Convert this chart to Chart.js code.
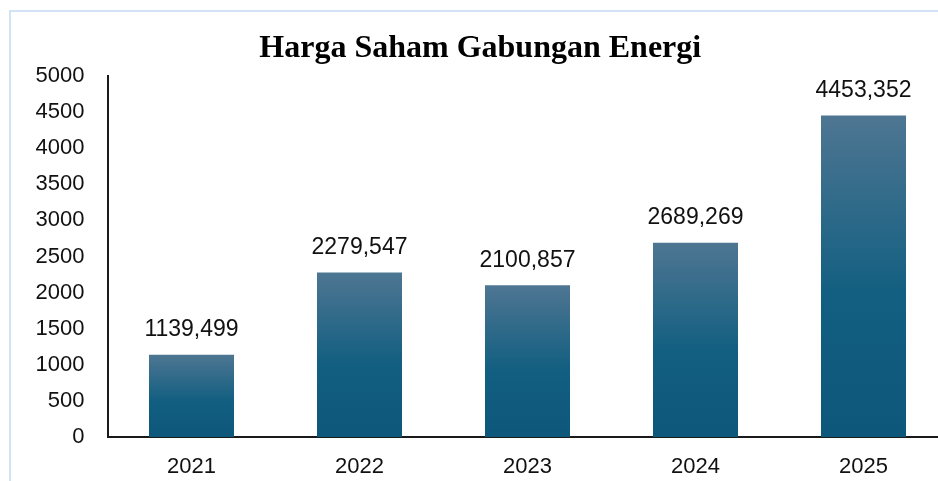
<!DOCTYPE html>
<html>
<head>
<meta charset="utf-8">
<script src="https://cdn.jsdelivr.net/npm/chart.js@4.4.0/dist/chart.umd.min.js"></script>
<style>
  html, body { margin: 0; padding: 0; background: #fff; overflow: hidden; width: 938px; height: 481px; }
  #wrap { position: absolute; left: 0; top: 0; width: 960px; height: 481px; }
  #frame { position: absolute; left: 9px; top: 10px; width: 960px; height: 480px;
           border-left: 2px solid #d3e3f6; border-top: 2px solid #d3e3f6; pointer-events: none; }
</style>
</head>
<body>
<div id="wrap"><canvas id="chart-energi" width="960" height="481"></canvas></div>
<div id="frame"></div>
<script>
const years = ['2021', '2022', '2023', '2024', '2025'];
const prices = [1139.499, 2279.547, 2100.857, 2689.269, 4453.352];
const yTicks = [0, 500, 1000, 1500, 2000, 2500, 3000, 3500, 4000, 4500, 5000];

const fontFamily = '"Liberation Sans", Arial, sans-serif';

function barGradient(c) {
  const chart = c.chart;
  const y = chart.scales && chart.scales.y;
  if (!y || c.raw == null) return '#0f5a7c';
  const top = y.getPixelForValue(c.raw);
  const base = y.getPixelForValue(0);
  if (!isFinite(top) || !isFinite(base) || top === base) return '#0f5a7c';
  const g = chart.ctx.createLinearGradient(0, top, 0, base);
  g.addColorStop(0, '#4e7692');
  g.addColorStop(0.55, '#135f81');
  g.addColorStop(1, '#0d577a');
  return g;
}

// nilai di atas batang, format desimal koma
const valueLabels = {
  id: 'valueLabels',
  afterDatasetsDraw(chart) {
    const ctx = chart.ctx;
    const meta = chart.getDatasetMeta(0);
    ctx.save();
    ctx.font = '23px ' + fontFamily;
    ctx.fillStyle = '#111';
    ctx.textAlign = 'center';
    ctx.textBaseline = 'middle';
    meta.data.forEach((bar, i) => {
      const txt = prices[i].toFixed(3).replace('.', ',');
      ctx.fillText(txt, bar.x, bar.y - 25);
    });
    ctx.restore();
  }
};

new Chart(document.getElementById('chart-energi'), {
  type: 'bar',
  data: {
    labels: years,
    datasets: [{
      data: prices,
      backgroundColor: barGradient,
      categoryPercentage: 1,
      barPercentage: 0.506,
      borderWidth: 0,
    }]
  },
  options: {
    responsive: false,
    animation: false,
    layout: { padding: { left: 13, right: 12.5, top: 0, bottom: 0 } },
    plugins: {
      legend: { display: false },
      tooltip: { enabled: false },
      title: {
        display: true,
        text: 'Harga Saham Gabungan Energi',
        color: '#000',
        font: { family: '"Liberation Serif", "Times New Roman", serif', size: 32, weight: 'bold', lineHeight: 1.2 },
        padding: { top: 30, bottom: 7.6 }
      }
    },
    scales: {
      x: {
        afterFit: (s) => { s.height = 44; },
        grid: { display: false, drawTicks: false },
        border: { display: true, color: '#1a1a1a', width: 2 },
        ticks: { color: '#111', font: { family: fontFamily, size: 22 }, padding: 17 }
      },
      y: {
        min: 0,
        max: 5000,
        afterBuildTicks: (s) => { s.ticks = yTicks.map(v => ({ value: v })); },
        afterFit: (s) => { s.width = 94.5; },
        grid: { display: false, drawTicks: false },
        border: { display: true, color: '#1a1a1a', width: 2 },
        ticks: { color: '#111', font: { family: fontFamily, size: 22 }, padding: 23, callback: v => String(v) }
      }
    }
  },
  plugins: [valueLabels]
});
</script>
</body>
</html>
